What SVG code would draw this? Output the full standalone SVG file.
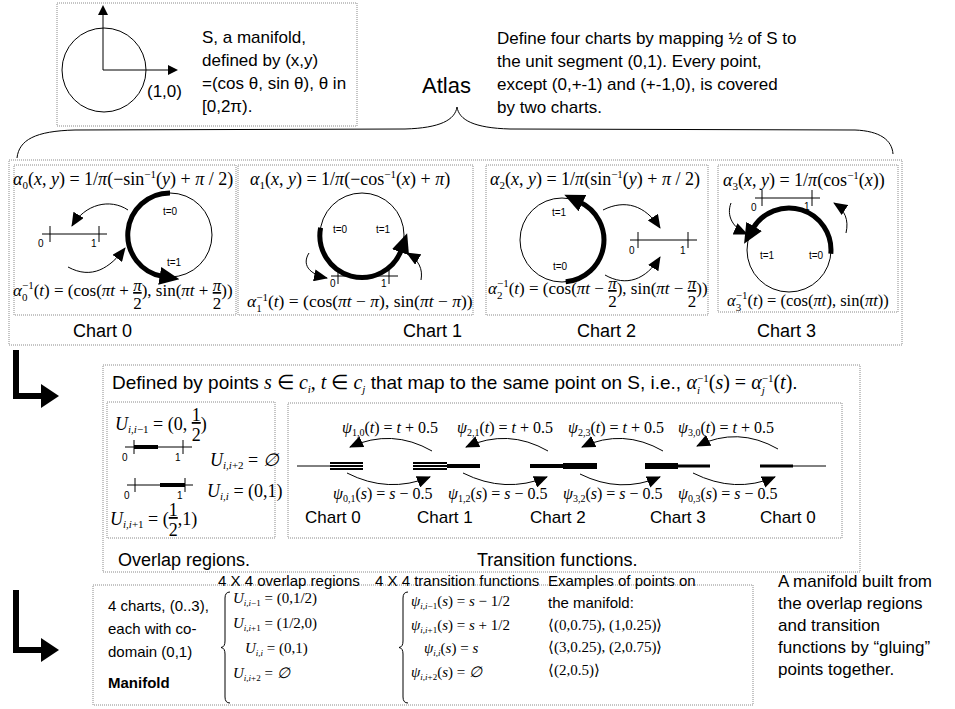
<svg xmlns="http://www.w3.org/2000/svg" width="955" height="709" viewBox="0 0 955 709">
<style>
.bx{fill:none;stroke:#8a8a8a;stroke-width:1;stroke-dasharray:1 1}
.t{font-family:"Liberation Sans",Arial,sans-serif;fill:#000}
.f{font-family:"Liberation Serif","Times New Roman",serif;fill:#000;font-size:18px}
.f17{font-size:17px}
.f16{font-size:16px}
.f15{font-size:15px}
.i{font-style:italic}
.s{font-size:11px}
.s10{font-size:10px}
.s9{font-size:9px}
.ul{text-decoration:underline}
.ln{fill:none;stroke:#000;stroke-width:1}
.ar{fill:none;stroke:#000;stroke-width:1;marker-end:url(#ah)}
.thk{fill:none;stroke:#000;stroke-width:5;marker-end:url(#big)}
.n{font-family:"Liberation Sans",Arial,sans-serif;font-size:10px}
.c{font-family:"Liberation Sans",Arial,sans-serif;font-size:18px}
.L{fill:none;stroke:#000;stroke-width:6;marker-end:url(#Lh)}
</style>
<defs>
<marker id="ah" markerUnits="userSpaceOnUse" viewBox="0 0 14 12" markerWidth="14" markerHeight="12" refX="13" refY="6" orient="auto"><path d="M0,0L14,6L0,12z"/></marker>
<marker id="big" markerUnits="userSpaceOnUse" viewBox="0 0 20 18" markerWidth="20" markerHeight="18" refX="3" refY="9" orient="auto"><path d="M0,0L20,9L0,18z"/></marker>
<marker id="ax" markerUnits="userSpaceOnUse" viewBox="0 0 10 10" markerWidth="10" markerHeight="10" refX="0" refY="5" orient="auto"><path d="M0,0L10,5L0,10z"/></marker>
<marker id="Lh" markerUnits="userSpaceOnUse" viewBox="0 0 18 24" markerWidth="18" markerHeight="24" refX="1" refY="12" orient="auto"><path d="M0,0L18,12L0,24z"/></marker>
</defs>
<rect width="955" height="709" fill="#fff"/>

<g id="manifold-S">
<rect class="bx" x="57" y="3" width="300" height="123"/>
<circle class="ln" cx="104" cy="70" r="42"/>
<path class="ln" d="M103,70V15" marker-end="url(#ax)"/>
<path class="ln" d="M103,70H168" marker-end="url(#ax)"/>
<text class="t" x="147" y="97" font-size="17">(1,0)</text>
<text class="t" font-size="17"><tspan x="202" y="43">S, a manifold,</tspan><tspan x="202" y="66">defined by (x,y)</tspan><tspan x="202" y="89">=(cos θ, sin θ), θ in</tspan><tspan x="202" y="112">[0,2π).</tspan></text>
</g>

<g id="atlas">
<text class="t" x="422" y="93" font-size="22">Atlas</text>
<path class="ln" d="M17,158C19,140 35,131 75,130L405,129C440,128 455,120 457,107C459,120 474,128 510,129L855,130C880,131 892,140 893,154"/>
</g>

<g id="atlas-note">
<text class="t" font-size="17"><tspan x="497" y="44">Define four charts by mapping ½ of S to</tspan><tspan x="497" y="67">the unit segment (0,1). Every point,</tspan><tspan x="497" y="90">except (0,+-1) and (+-1,0), is covered</tspan><tspan x="497" y="113">by two charts.</tspan></text>
</g>

<g id="charts">
<rect class="bx" x="9" y="160" width="893" height="185"/>
</g>

<g id="chart0">
<rect class="bx" x="14" y="165" width="222" height="150"/>
<text class="f" x="13" y="185"><tspan class="i">α</tspan><tspan class="s" dy="4">0</tspan><tspan dy="-4">(</tspan><tspan class="i">x</tspan>, <tspan class="i">y</tspan>) = 1/<tspan class="i">π</tspan>(−sin<tspan class="s" dy="-7">−1</tspan><tspan dy="7">(</tspan><tspan class="i">y</tspan>) + <tspan class="i">π</tspan> / 2)</text>
<circle class="ln" cx="170" cy="235" r="42"/>
<path class="thk" d="M170,193A42,42 0 0 0 162.7,276.4"/>
<text class="n" x="163" y="215">t=0</text>
<text class="n" x="167" y="266">t=1</text>
<path class="ln" d="M42,234H107M50,226V242M99,226V242"/>
<text class="n" x="38" y="247">0</text>
<text class="n" x="91" y="247">1</text>
<text class="f f17" x="13" y="296"><tspan class="i">α</tspan><tspan class="s" dy="5">0</tspan><tspan class="s" dx="-5.5" dy="-12">−1</tspan><tspan dy="7">(</tspan><tspan class="i">t</tspan>) = (cos(<tspan class="i">πt</tspan> + <tspan class="i ul" dy="-5">π</tspan><tspan dx="-8.5" dy="18">2</tspan><tspan dy="-13">), sin(</tspan><tspan class="i">πt</tspan> + <tspan class="i ul" dy="-5">π</tspan><tspan dx="-8.5" dy="18">2</tspan><tspan dy="-13">))</tspan></text>
<text class="c" x="73" y="337">Chart 0</text>
</g>

<g id="chart1">
<rect class="bx" x="238" y="165" width="235" height="150"/>
<text class="f" x="250" y="185"><tspan class="i">α</tspan><tspan class="s" dy="4">1</tspan><tspan dy="-4">(</tspan><tspan class="i">x</tspan>, <tspan class="i">y</tspan>) = 1/<tspan class="i">π</tspan>(−cos<tspan class="s" dy="-7">−1</tspan><tspan dy="7">(</tspan><tspan class="i">x</tspan>) + <tspan class="i">π</tspan>)</text>
<circle class="ln" cx="362" cy="235" r="42"/>
<path class="thk" d="M320.6,227.7A42,42 0 0 0 401.5,249.4"/>
<text class="n" x="333" y="233">t=0</text>
<text class="n" x="376" y="233">t=1</text>
<path class="ln" d="M331,276H398M338,268V284M389,268V284"/>
<text class="n" x="330" y="287">0</text>
<text class="n" x="381" y="287">1</text>
<text class="f" x="247" y="307" style="font-size:17.5px"><tspan class="i">α</tspan><tspan class="s" dy="5">1</tspan><tspan class="s" dx="-5.5" dy="-11">−1</tspan><tspan dy="6">(</tspan><tspan class="i">t</tspan>) = (cos(<tspan class="i">πt</tspan> − <tspan class="i">π</tspan>), sin(<tspan class="i">πt</tspan> − <tspan class="i">π</tspan>))</text>
<text class="c" x="403" y="337">Chart 1</text>
</g>

<g id="chart2">
<rect class="bx" x="486" y="165" width="222" height="150"/>
<text class="f" x="490" y="185"><tspan class="i">α</tspan><tspan class="s" dy="4">2</tspan><tspan dy="-4">(</tspan><tspan class="i">x</tspan>, <tspan class="i">y</tspan>) = 1/<tspan class="i">π</tspan>(sin<tspan class="s" dy="-7">−1</tspan><tspan dy="7">(</tspan><tspan class="i">y</tspan>) + <tspan class="i">π</tspan> / 2)</text>
<circle class="ln" cx="562" cy="240" r="42"/>
<path class="thk" d="M565.7,281.8A42,42 0 0 0 579.7,201.9"/>
<text class="n" x="552" y="216">t=1</text>
<text class="n" x="553" y="270">t=0</text>
<path class="ln" d="M630,240H697M638,232V248M688,232V248"/>
<text class="n" x="629" y="254">0</text>
<text class="n" x="680" y="254">1</text>
<text class="f f17" x="488" y="294"><tspan class="i">α</tspan><tspan class="s" dy="5">2</tspan><tspan class="s" dx="-5.5" dy="-12">−1</tspan><tspan dy="7">(</tspan><tspan class="i">t</tspan>) = (cos(<tspan class="i">πt</tspan> − <tspan class="i ul" dy="-5">π</tspan><tspan dx="-8.5" dy="18">2</tspan><tspan dy="-13">), sin(</tspan><tspan class="i">πt</tspan> − <tspan class="i ul" dy="-5">π</tspan><tspan dx="-8.5" dy="18">2</tspan><tspan dy="-13">))</tspan></text>
<text class="c" x="577" y="337">Chart 2</text>
</g>

<g id="chart3">
<rect class="bx" x="718" y="165" width="180" height="147"/>
<text class="f" x="723" y="186"><tspan class="i">α</tspan><tspan class="s" dy="4">3</tspan><tspan dy="-4">(</tspan><tspan class="i">x</tspan>, <tspan class="i">y</tspan>) = 1/<tspan class="i">π</tspan>(cos<tspan class="s" dy="-7">−1</tspan><tspan dy="7">(</tspan><tspan class="i">x</tspan>))</text>
<path class="ln" d="M755,198H820M762,190V206M812,190V206"/>
<text class="n" x="751" y="211">0</text>
<text class="n" x="804" y="210">1</text>
<circle class="ln" cx="789" cy="250" r="42"/>
<path class="thk" d="M830.8,253.7A42,42 0 0 0 752.6,229"/>
<text class="n" x="760" y="259">t=1</text>
<text class="n" x="809" y="259">t=0</text>
<text class="f" x="727" y="306" style="font-size:16.5px"><tspan class="i">α</tspan><tspan class="s" dy="5">3</tspan><tspan class="s" dx="-5.5" dy="-12">−1</tspan><tspan dy="7">(</tspan><tspan class="i">t</tspan>) = (cos(<tspan class="i">πt</tspan>), sin(<tspan class="i">πt</tspan>))</text>
<text class="c" x="757" y="337">Chart 3</text>
</g>

<g id="overlap-transition">
<rect class="bx" x="103" y="365" width="757" height="207"/>
<text x="112" y="389"><tspan class="t" font-size="19">Defined by points </tspan><tspan class="f i" style="font-size:20px">s</tspan><tspan class="f" style="font-size:20px"> ∈ </tspan><tspan class="f i" style="font-size:20px">c</tspan><tspan class="f i s" dy="4">i</tspan><tspan class="f" style="font-size:20px" dy="-4">, </tspan><tspan class="f i" style="font-size:20px">t</tspan><tspan class="f" style="font-size:20px"> ∈ </tspan><tspan class="f i" style="font-size:20px">c</tspan><tspan class="f i s" dy="4">j</tspan><tspan class="t" font-size="19" dy="-4"> that map to the same point on S, i.e., </tspan><tspan class="f i" style="font-size:20px">α</tspan><tspan class="f i s" dy="5">i</tspan><tspan class="f s" dx="-3" dy="-12">−1</tspan><tspan class="f" style="font-size:20px" dy="7">(</tspan><tspan class="f i" style="font-size:20px">s</tspan><tspan class="f" style="font-size:20px">) = </tspan><tspan class="f i" style="font-size:20px">α</tspan><tspan class="f i s" dy="5">j</tspan><tspan class="f s" dx="-3" dy="-12">−1</tspan><tspan class="f" style="font-size:20px" dy="7">(</tspan><tspan class="f i" style="font-size:20px">t</tspan><tspan class="f" style="font-size:20px">)</tspan><tspan class="t" font-size="19">.</tspan></text>
</g>

<g id="overlap-regions">
<rect class="bx" x="107" y="402" width="168" height="136"/>
<text class="f" x="115" y="430"><tspan class="i">U</tspan><tspan class="i s" dy="3">i,i</tspan><tspan class="s">−1</tspan><tspan dy="-3"> = (0, </tspan><tspan class="ul" dy="-9">1</tspan><tspan dx="-9" dy="20">2</tspan><tspan dy="-11">)</tspan></text>
<path class="ln" d="M125,447H192M134,440V454M183,440V454"/>
<path d="M134,447H158" stroke="#000" stroke-width="4"/>
<text class="n" x="122" y="461">0</text>
<text class="n" x="175" y="461">1</text>
<text class="f" x="210" y="466"><tspan class="i">U</tspan><tspan class="i s" dy="3">i,i</tspan><tspan class="s">+2</tspan><tspan dy="-3"> = </tspan><tspan class="i">∅</tspan></text>
<path class="ln" d="M127,485H193M135,478V492M185,478V492"/>
<path d="M160,485H185" stroke="#000" stroke-width="4"/>
<text class="n" x="124" y="499">0</text>
<text class="n" x="177" y="499">1</text>
<text class="f" x="207" y="497"><tspan class="i">U</tspan><tspan class="i s" dy="3">i,i</tspan><tspan dy="-3"> = (0,1)</tspan></text>
<text class="f" x="110" y="525"><tspan class="i">U</tspan><tspan class="i s" dy="3">i,i</tspan><tspan class="s">+1</tspan><tspan dy="-3"> = (</tspan><tspan class="ul" dy="-9">1</tspan><tspan dx="-9" dy="20">2</tspan><tspan dy="-11">,1)</tspan></text>
<text class="t" x="118" y="566" font-size="18">Overlap regions.</text>
</g>

<g id="transition-functions">
<rect class="bx" x="288" y="403" width="554" height="135"/>
<path d="M297,466H330M793,466H826" stroke="#000" stroke-width="1"/>
<path d="M330,463H363M330,466H363M330,469H363M413,463H447M413,466H447M413,469H447" stroke="#000" stroke-width="2"/>
<path d="M447,466H480M530,466H563" stroke="#000" stroke-width="4"/>
<path d="M563,466H597M645,466H678" stroke="#000" stroke-width="6"/>
<path d="M678,466H710M760,466H793" stroke="#000" stroke-width="3"/>
<g class="f f16">
<text x="342" y="433"><tspan class="i">ψ</tspan><tspan class="s10" dy="3">1,0</tspan><tspan dy="-3">(</tspan><tspan class="i">t</tspan>) = <tspan class="i">t</tspan> + 0.5</text>
<text x="457" y="433"><tspan class="i">ψ</tspan><tspan class="s10" dy="3">2,1</tspan><tspan dy="-3">(</tspan><tspan class="i">t</tspan>) = <tspan class="i">t</tspan> + 0.5</text>
<text x="568" y="433"><tspan class="i">ψ</tspan><tspan class="s10" dy="3">2,3</tspan><tspan dy="-3">(</tspan><tspan class="i">t</tspan>) = <tspan class="i">t</tspan> + 0.5</text>
<text x="678" y="433"><tspan class="i">ψ</tspan><tspan class="s10" dy="3">3,0</tspan><tspan dy="-3">(</tspan><tspan class="i">t</tspan>) = <tspan class="i">t</tspan> + 0.5</text>
<text x="333" y="499"><tspan class="i">ψ</tspan><tspan class="s10" dy="3">0,1</tspan><tspan dy="-3">(</tspan><tspan class="i">s</tspan>) = <tspan class="i">s</tspan> − 0.5</text>
<text x="448" y="499"><tspan class="i">ψ</tspan><tspan class="s10" dy="3">1,2</tspan><tspan dy="-3">(</tspan><tspan class="i">s</tspan>) = <tspan class="i">s</tspan> − 0.5</text>
<text x="563" y="499"><tspan class="i">ψ</tspan><tspan class="s10" dy="3">3,2</tspan><tspan dy="-3">(</tspan><tspan class="i">s</tspan>) = <tspan class="i">s</tspan> − 0.5</text>
<text x="678" y="499"><tspan class="i">ψ</tspan><tspan class="s10" dy="3">0,3</tspan><tspan dy="-3">(</tspan><tspan class="i">s</tspan>) = <tspan class="i">s</tspan> − 0.5</text>
</g>
<g class="t" font-size="17">
<text x="305" y="523">Chart 0</text>
<text x="417" y="523">Chart 1</text>
<text x="530" y="523">Chart 2</text>
<text x="650" y="523">Chart 3</text>
<text x="760" y="523">Chart 0</text>
</g>
<text class="t" x="477" y="566" font-size="18">Transition functions.</text>
</g>

<g id="manifold-built">
<rect class="bx" x="93" y="585" width="660" height="120"/>
<g class="t" font-size="15">
<text x="108" y="611">4 charts, (0..3),</text>
<text x="108" y="634">each with co-</text>
<text x="108" y="657">domain (0,1)</text>
<text x="108" y="688" font-weight="bold">Manifold</text>
<text x="218" y="586">4 X 4 overlap regions</text>
<text x="375" y="586">4 X 4 transition functions</text>
<text x="548" y="586">Examples of points on</text>
<text x="548" y="608">the manifold:</text>
</g>
<path class="ln" d="M230,592Q225,592 225,598V641Q225,647 221,647.5Q225,648 225,654V697Q225,703 230,703"/>
<path class="ln" d="M408,592Q403,592 403,598V641Q403,647 399,647.5Q403,648 403,654V697Q403,703 408,703"/>
<g class="f f15">
<text x="233" y="603"><tspan class="i">U</tspan><tspan class="i s9" dy="3">i,i</tspan><tspan class="s9">−1</tspan><tspan dy="-3"> = (0,1/2)</tspan></text>
<text x="233" y="628"><tspan class="i">U</tspan><tspan class="i s9" dy="3">i,i</tspan><tspan class="s9">+1</tspan><tspan dy="-3"> = (1/2,0)</tspan></text>
<text x="245" y="653"><tspan class="i">U</tspan><tspan class="i s9" dy="3">i,i</tspan><tspan dy="-3"> = (0,1)</tspan></text>
<text x="233" y="678"><tspan class="i">U</tspan><tspan class="i s9" dy="3">i,i</tspan><tspan class="s9">+2</tspan><tspan dy="-3"> = </tspan><tspan class="i">∅</tspan></text>
<text x="411" y="606"><tspan class="i">ψ</tspan><tspan class="i s9" dy="3">i,i</tspan><tspan class="s9">−1</tspan><tspan dy="-3">(</tspan><tspan class="i">s</tspan>) = <tspan class="i">s</tspan> − 1/2</text>
<text x="411" y="630"><tspan class="i">ψ</tspan><tspan class="i s9" dy="3">i,i</tspan><tspan class="s9">+1</tspan><tspan dy="-3">(</tspan><tspan class="i">s</tspan>) = <tspan class="i">s</tspan> + 1/2</text>
<text x="424" y="653"><tspan class="i">ψ</tspan><tspan class="i s9" dy="3">i,i</tspan><tspan dy="-3">(</tspan><tspan class="i">s</tspan>) = <tspan class="i">s</tspan></text>
<text x="411" y="677"><tspan class="i">ψ</tspan><tspan class="i s9" dy="3">i,i</tspan><tspan class="s9">+2</tspan><tspan dy="-3">(</tspan><tspan class="i">s</tspan>) = <tspan class="i">∅</tspan></text>
<text x="548" y="630">⟨(0,0.75), (1,0.25)⟩</text>
<text x="548" y="652">⟨(3,0.25), (2,0.75)⟩</text>
<text x="548" y="675">⟨(2,0.5)⟩</text>
</g>
</g>

<g id="gluing-note">
<text class="t" font-size="17"><tspan x="778" y="587">A manifold built from</tspan><tspan x="778" y="609">the overlap regions</tspan><tspan x="778" y="631">and transition</tspan><tspan x="778" y="653">functions by “gluing”</tspan><tspan x="778" y="675">points together.</tspan></text>
</g>

<g id="connectors">
<path class="ar" d="M128,210C110,198 85,204 72,226"/>
<path class="ar" d="M68,267C92,280 110,268 125,248"/>
<path class="ar" d="M309,253C302,264 308,274 327,278"/>
<path class="ar" d="M421,280C423,269 419,260 407,253"/>
<path class="ar" d="M603,210C625,199 645,205 660,228"/>
<path class="ar" d="M605,275C626,287 646,280 660,257"/>
<path class="ar" d="M731,203C726,216 733,228 747,234"/>
<path class="ar" d="M846,233C849,220 845,210 834,203"/>
<path class="ar" d="M432,451Q392,428 350,447"/>
<path class="ar" d="M548,451Q508,428 466,447"/>
<path class="ar" d="M663,451Q623,428 582,447"/>
<path class="ar" d="M778,449Q738,426 697,446"/>
<path class="ar" d="M347,473Q388,494 430,477"/>
<path class="ar" d="M463,473Q505,494 547,477"/>
<path class="ar" d="M580,474Q620,494 660,477"/>
<path class="ar" d="M693,473Q735,494 775,477"/>
<path class="L" d="M16,350V396H42"/>
<path class="L" d="M16,590V650H42"/>
</g>
</svg>
